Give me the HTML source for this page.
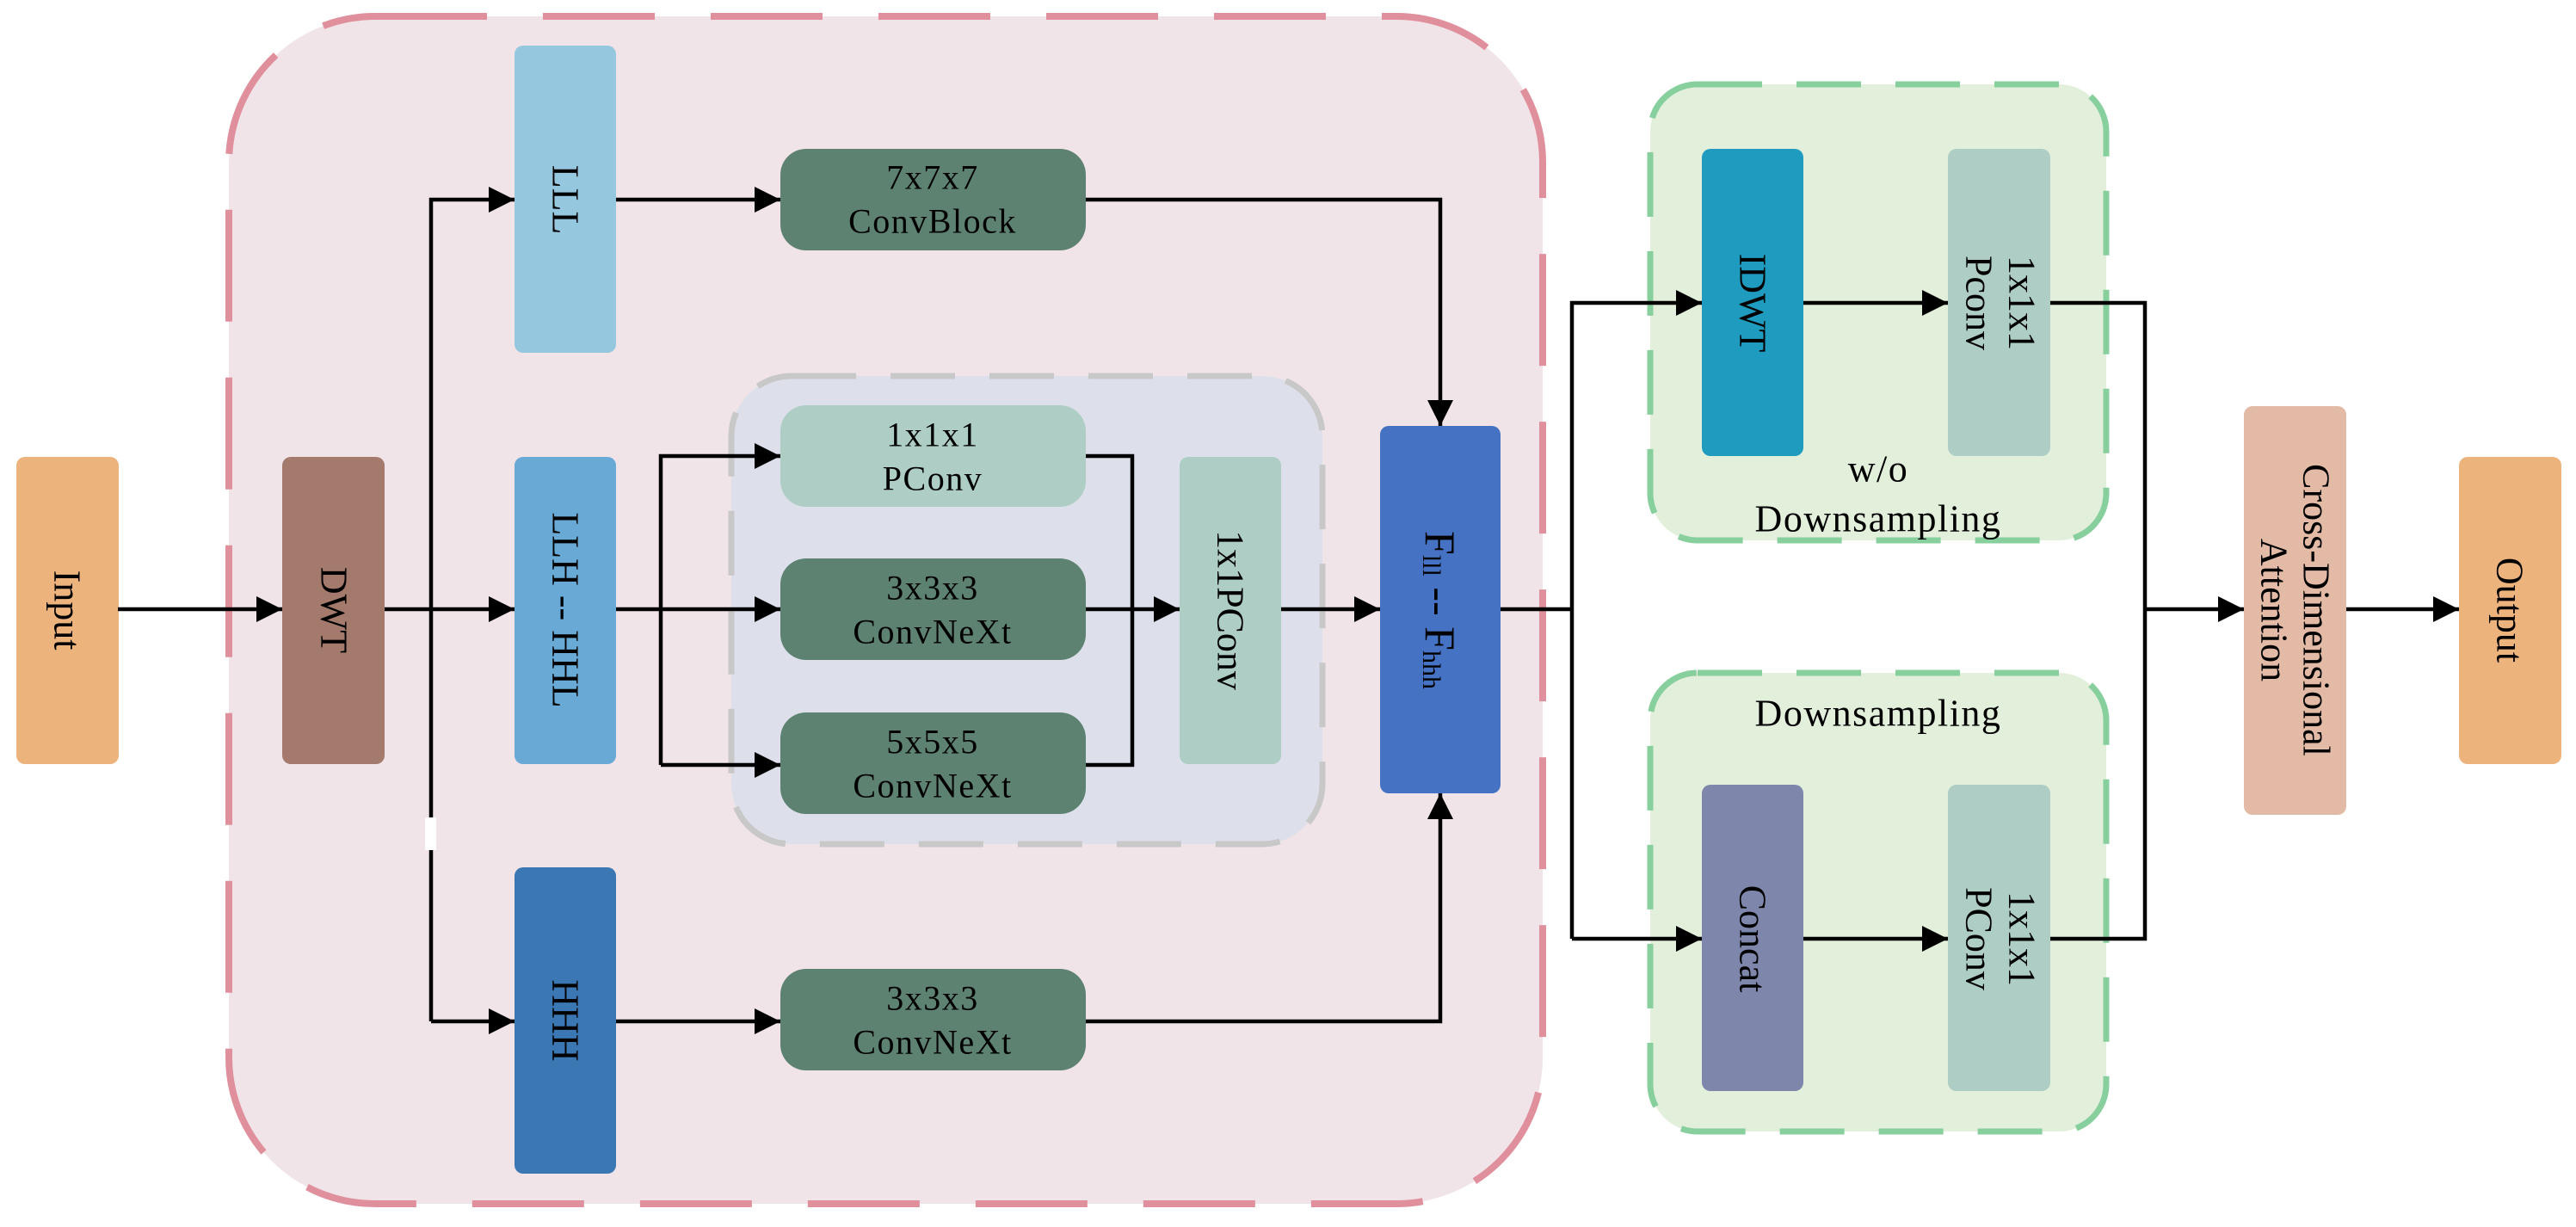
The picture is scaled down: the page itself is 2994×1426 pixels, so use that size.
<!DOCTYPE html>
<html><head><meta charset="utf-8"><style>
html,body{margin:0;padding:0;background:#fff;}
svg{display:block;}
text{font-family:"Liberation Serif",serif;fill:#000;}
</style></head><body>
<svg width="2994" height="1426" viewBox="0 0 2994 1426" xmlns="http://www.w3.org/2000/svg">
<defs>
<marker id="a" markerUnits="userSpaceOnUse" markerWidth="32" markerHeight="30" refX="30" refY="15" orient="auto">
<path d="M0,0 L30,15 L0,30 z" fill="#000"/>
</marker>
</defs>
<rect x="266" y="19" width="1527" height="1380" rx="170" fill="#f0e4e8" stroke="#e0909c" stroke-width="8" stroke-dasharray="130,65"/>
<rect x="850" y="437" width="687" height="544" rx="70" fill="#dde0ea" stroke="#c8c8c8" stroke-width="7" stroke-dasharray="75,40"/>
<rect x="1918" y="98" width="530" height="530" rx="55" fill="#e2efdb" stroke="#88cf9e" stroke-width="7" stroke-dasharray="75,40"/>
<rect x="1918" y="782" width="530" height="533" rx="55" fill="#e2efdb" stroke="#88cf9e" stroke-width="7" stroke-dasharray="75,40"/>

<rect x="19" y="531" width="119" height="357" rx="10" fill="#edb37d"/>
<rect x="328" y="531" width="119" height="357" rx="10" fill="#a47a6c"/>
<rect x="598" y="53" width="118" height="357" rx="10" fill="#95c7df"/>
<rect x="598" y="531" width="118" height="357" rx="10" fill="#68a9d5"/>
<rect x="598" y="1008" width="118" height="356" rx="10" fill="#3b77b2"/>
<rect x="907" y="173" width="355" height="118" rx="30" fill="#5e8272"/>
<rect x="907" y="471" width="355" height="118" rx="30" fill="#aecec5"/>
<rect x="907" y="649" width="355" height="118" rx="30" fill="#5e8272"/>
<rect x="907" y="828" width="355" height="118" rx="30" fill="#5e8272"/>
<rect x="907" y="1126" width="355" height="118" rx="30" fill="#5e8272"/>
<rect x="1371" y="531" width="118" height="357" rx="10" fill="#aecec5"/>
<rect x="1604" y="495" width="140" height="427" rx="10" fill="#4572c2"/>
<rect x="1978" y="173" width="118" height="357" rx="10" fill="#1f9bbf"/>
<rect x="2264" y="173" width="119" height="357" rx="10" fill="#aecec5"/>
<rect x="1978" y="912" width="118" height="356" rx="10" fill="#7e86ab"/>
<rect x="2264" y="912" width="119" height="356" rx="10" fill="#aecec5"/>
<rect x="2608" y="472" width="119" height="475" rx="10" fill="#e2baa6"/>
<rect x="2858" y="531" width="119" height="357" rx="10" fill="#edb37d"/>

<g stroke="#000" stroke-width="4.5" fill="none">
<path d="M137,708 H328" marker-end="url(#a)"/>
<path d="M447,708 H598" marker-end="url(#a)"/>
<path d="M501,1187 V232 H598" marker-end="url(#a)"/>
<path d="M501,1187 H598" marker-end="url(#a)"/>
<path d="M716,232 H907" marker-end="url(#a)"/>
<path d="M716,708 H907" marker-end="url(#a)"/>
<path d="M716,1187 H907" marker-end="url(#a)"/>
<path d="M768,889 V530 H907" marker-end="url(#a)"/>
<path d="M768,889 H907" marker-end="url(#a)"/>
<path d="M1262,530 H1316 V889 H1262"/>
<path d="M1262,708 H1371" marker-end="url(#a)"/>
<path d="M1489,708 H1604" marker-end="url(#a)"/>
<path d="M1262,232 H1674 V495" marker-end="url(#a)"/>
<path d="M1262,1187 H1674 V922" marker-end="url(#a)"/>
<path d="M1744,708 H1827"/>
<path d="M1827,1091 V352 H1978" marker-end="url(#a)"/>
<path d="M1827,1091 H1978" marker-end="url(#a)"/>
<path d="M2096,352 H2264" marker-end="url(#a)"/>
<path d="M2096,1091 H2264" marker-end="url(#a)"/>
<path d="M2383,352 H2493 V1091 H2383"/>
<path d="M2493,708 H2608" marker-end="url(#a)"/>
<path d="M2727,708 H2858" marker-end="url(#a)"/>
</g>
<rect x="494" y="950" width="13" height="38" fill="#fff"/>

<g font-size="44" text-anchor="middle" dominant-baseline="central">
<text transform="translate(78,709) rotate(90)">Input</text>
<text transform="translate(388,709) rotate(90)">DWT</text>
<text transform="translate(657,232) rotate(90)">LLL</text>
<text transform="translate(657,709) rotate(90)">LLH -- HHL</text>
<text transform="translate(657,1186) rotate(90)">HHH</text>
<text transform="translate(1430,709) rotate(90)">1x1PConv</text>
<text transform="translate(1674,709) rotate(90)" font-size="50">F<tspan font-size="30" dy="10">lll</tspan><tspan dy="-10"> -- F</tspan><tspan font-size="30" dy="10">hhh</tspan></text>
<text transform="translate(2037,352) rotate(90)">IDWT</text>
<text transform="translate(2037,1091) rotate(90)">Concat</text>
<text transform="translate(2350,352) rotate(90)">1x1x1</text>
<text transform="translate(2300,352) rotate(90)">Pconv</text>
<text transform="translate(2350,1091) rotate(90)">1x1x1</text>
<text transform="translate(2300,1091) rotate(90)">PConv</text>
<text transform="translate(2692,709) rotate(90)">Cross-Dimensional</text>
<text transform="translate(2643,709) rotate(90)">Attention</text>
<text transform="translate(2917,709) rotate(90)">Output</text>
</g>
<g font-size="40" text-anchor="middle" dominant-baseline="central" letter-spacing="1.5">
<text x="1084" y="206">7x7x7</text>
<text x="1084" y="257">ConvBlock</text>
<text x="1084" y="505">1x1x1</text>
<text x="1084" y="556">PConv</text>
<text x="1084" y="683">3x3x3</text>
<text x="1084" y="734">ConvNeXt</text>
<text x="1084" y="862">5x5x5</text>
<text x="1084" y="913">ConvNeXt</text>
<text x="1084" y="1160">3x3x3</text>
<text x="1084" y="1211">ConvNeXt</text>
<text x="2183" y="545" font-size="44">w/o</text>
<text x="2183" y="603" font-size="44">Downsampling</text>
<text x="2183" y="829" font-size="44">Downsampling</text>
</g>
</svg>
</body></html>
